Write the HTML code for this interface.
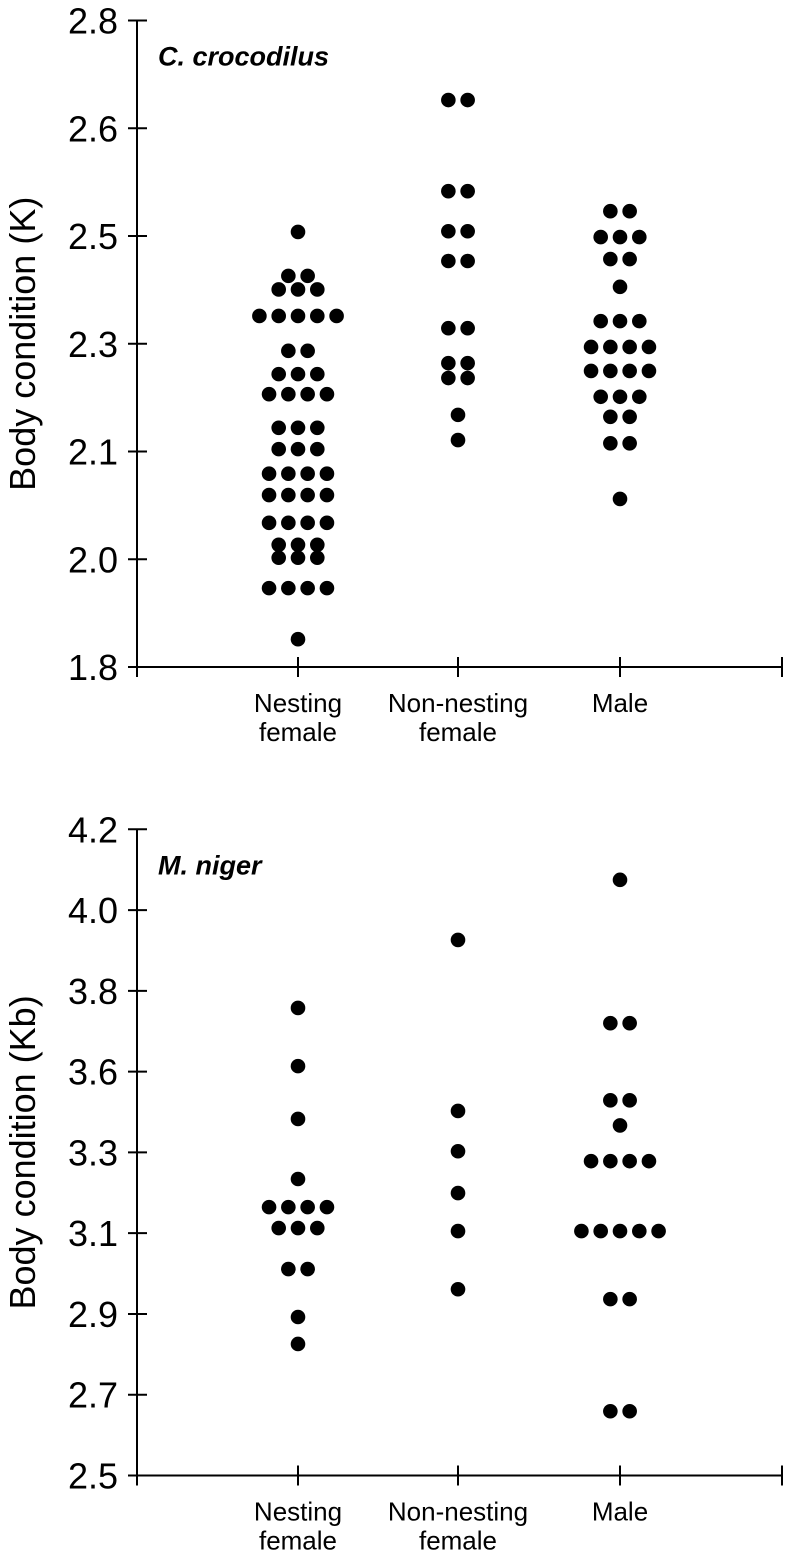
<!DOCTYPE html>
<html><head><meta charset="utf-8"><style>
html,body{margin:0;padding:0;background:#fff;}
svg{display:block;font-family:"Liberation Sans",Arial,sans-serif;}
</style></head><body>
<svg id="c" width="786" height="1559" viewBox="0 0 786 1559"></svg>
<script>
const categories = ["Nesting female","Non-nesting female","Male"];
const topTickLabels = ["2.8","2.6","2.5","2.3","2.1","2.0","1.8"];
const botTickLabels = ["4.2","4.0","3.8","3.6","3.3","3.1","2.9","2.7","2.5"];
const topNesting = [2.473,2.405,2.405,2.384,2.384,2.384,2.343,2.343,2.343,2.343,2.343,2.289,2.289,2.253,2.253,2.253,2.222,2.222,2.222,2.222,2.170,2.170,2.170,2.137,2.137,2.137,2.099,2.099,2.099,2.099,2.066,2.066,2.066,2.066,2.023,2.023,2.023,2.023,1.989,1.989,1.989,1.969,1.969,1.969,1.922,1.922,1.922,1.922,1.843];
const topNonNesting = [2.677,2.677,2.536,2.536,2.474,2.474,2.428,2.428,2.324,2.324,2.270,2.270,2.247,2.247,2.190,2.151];
const topMale = [2.505,2.505,2.465,2.465,2.465,2.431,2.431,2.388,2.335,2.335,2.335,2.295,2.295,2.295,2.295,2.258,2.258,2.258,2.258,2.218,2.218,2.218,2.187,2.187,2.146,2.146,2.060];
const botNesting = [3.730,3.577,3.438,3.280,3.206,3.206,3.206,3.206,3.151,3.151,3.151,3.043,3.043,2.917,2.846];
const botNonNesting = [3.909,3.459,3.353,3.243,3.143,2.990];
const botMale = [4.067,3.690,3.690,3.487,3.487,3.421,3.327,3.327,3.327,3.327,3.143,3.143,3.143,3.143,3.143,2.964,2.964,2.669,2.669];

const NS="http://www.w3.org/2000/svg";
const svg=document.getElementById('c');
function mk(tag,attrs,parent){const e=document.createElementNS(NS,tag);for(const k in attrs)e.setAttribute(k,attrs[k]);(parent||svg).appendChild(e);return e;}

function panel(cfg){
  const g=mk('g',{});
  
  
  const x0=137,x1=782,yTop=cfg.yTop,yBot=cfg.yBot;
  const ys=v=>yTop+(cfg.max-v)/(cfg.max-cfg.min)*(yBot-yTop);
  const xs=i=>[298,458,620][i];
  const ya=mk('line',{x1:x0,y1:yTop,x2:x0,y2:yBot+10,stroke:'#000','stroke-width':2},g);
  
  
  const xa=mk('line',{x1:x0,y1:yBot,x2:x1,y2:yBot,stroke:'#000','stroke-width':2},g);
  
  
  const n=cfg.ticks.length;
  cfg.ticks.forEach((t,i)=>{
    const y=yTop+i*(yBot-yTop)/(n-1);
    const tk=mk('line',{x1:128,y1:y,x2:147,y2:y,stroke:'#000','stroke-width':2},g);
    
    
    const tl=mk('text',{x:118,y:y+13,'text-anchor':'end','font-size':36},g);
    tl.textContent=t;
    
    
  });
  [298,458,620,782].forEach(x=>{
    const tk=mk('line',{x1:x,y1:yBot-10,x2:x,y2:yBot+10,stroke:'#000','stroke-width':2},g);
    
    
  });
  categories.forEach((c,i)=>{
    const words=c==="Male"?["Male"]:[c.replace(" female",""),"female"];
    words.forEach((w,j)=>{
      const t=mk('text',{x:xs(i),y:yBot+45+j*29,'text-anchor':'middle','font-size':26},g);
      t.textContent=w;
      
      
    });
  });
  const yc=(yTop+yBot)/2;
  const tt=mk('text',{x:0,y:0,'text-anchor':'middle','font-size':36,transform:`translate(35,${yc}) rotate(-90)`},g);
  tt.textContent=cfg.yTitle;
  
  
  const st=mk('text',{x:158,y:yTop+45,'font-size':27,'font-weight':'bold','font-style':'italic'},g);
  st.textContent=cfg.species;
  
  
  cfg.series.forEach((arr,i)=>{
    const rows=new Map();
    arr.forEach(v=>{rows.set(v,(rows.get(v)||0)+1);});
    rows.forEach((cnt,v)=>{
      for(let k=0;k<cnt;k++){
        const cx=xs(i)+(k-(cnt-1)/2)*19.3;
        const d=mk('circle',{cx:cx,cy:ys(v),r:7.3,fill:'#000'},g);
        
        
      }
    });
  });
}
panel({name:'c-crocodilus-panel',yTop:20.5,yBot:667,min:1.8,max:2.8,ticks:topTickLabels,yTitle:'Body condition (K)',species:'C. crocodilus',series:[topNesting,topNonNesting,topMale]});
panel({name:'m-niger-panel',yTop:829.3,yBot:1475.5,min:2.5,max:4.2,ticks:botTickLabels,yTitle:'Body condition (Kb)',species:'M. niger',series:[botNesting,botNonNesting,botMale]});
</script>
</body></html>
